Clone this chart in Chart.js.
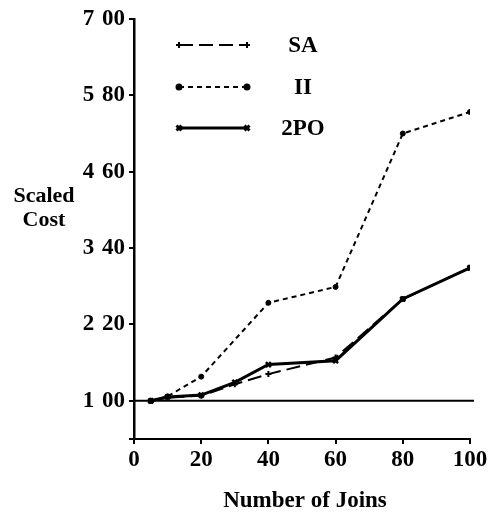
<!DOCTYPE html>
<html>
<head>
<meta charset="utf-8">
<script src="https://cdn.jsdelivr.net/npm/chart.js@4"></script>
<style>
html, body { margin: 0; padding: 0; background: #fff; }
#wrap { width: 491px; height: 513px; }
</style>
</head>
<body>
<div id="wrap"><canvas id="chart"></canvas></div>
<script>
// valeurs (coût relatif selon le nombre de jointures)
const joins = [5, 10, 20, 30, 40, 60, 80, 100];
const saCost = [1.00, 1.05, 1.08, 1.26, 1.42, 1.68, 2.60, 3.09];
const iiJoins = [5, 10, 20, 40, 60, 80, 100];
const iiCost = [1.00, 1.07, 1.38, 2.54, 2.79, 5.20, 5.54];
const tpoCost = [1.00, 1.06, 1.09, 1.29, 1.57, 1.63, 2.60, 3.09];
const yTicks = [0.40, 1.00, 2.20, 3.40, 4.60, 5.80, 7.00];
const xTicks = [0, 20, 40, 60, 80, 100];
const baseline = 1.00;

const FONT = '"Liberation Serif", "Times New Roman", serif';

function toPoints(xs, ys) {
    return xs.map((x, i) => ({ x: x, y: ys[i] }));
}

// ligne horizontale à y = 1
const baselinePlugin = {
    id: 'baseline',
    beforeDatasetsDraw(chart) {
        const { ctx, chartArea } = chart;
        const y = chart.scales.y.getPixelForValue(baseline);
        ctx.save();
        ctx.strokeStyle = '#000';
        ctx.lineWidth = 2;
        ctx.beginPath();
        ctx.moveTo(chartArea.left, y);
        ctx.lineTo(chartArea.right + 4, y);
        ctx.stroke();
        ctx.restore();
    }
};

// légende dessinée à la main, dans la zone du graphique
const legendPlugin = {
    id: 'cornerLegend',
    afterDraw(chart) {
        const { ctx } = chart;
        const rows = [45, 87, 128];
        ctx.save();
        chart.data.datasets.forEach((ds, i) => {
            const y = rows[i];
            ctx.strokeStyle = '#000';
            ctx.fillStyle = '#000';
            ctx.lineWidth = ds.borderWidth;
            ctx.setLineDash(ds.borderDash || []);
            ctx.beginPath();
            ctx.moveTo(179, y);
            ctx.lineTo(247, y);
            ctx.stroke();
            ctx.setLineDash([]);
            const opts = { pointStyle: ds.pointStyle, radius: ds.pointRadius, borderWidth: ds.pointBorderWidth, rotation: 0 };
            Chart.helpers.drawPoint(ctx, opts, 179, y);
            Chart.helpers.drawPoint(ctx, opts, 247, y);
            ctx.font = 'bold 23px ' + FONT;
            ctx.textAlign = 'center';
            ctx.textBaseline = 'middle';
            ctx.fillText(ds.label, 303, y + 1);
        });
        ctx.restore();
    }
};

// titres des axes (horizontaux)
const titlesPlugin = {
    id: 'axisTitles',
    afterDraw(chart) {
        const { ctx } = chart;
        ctx.save();
        ctx.fillStyle = '#000';
        ctx.textAlign = 'center';
        ctx.textBaseline = 'middle';
        ctx.font = 'bold 22px ' + FONT;
        ctx.fillText('Scaled', 44, 196);
        ctx.fillText('Cost', 44, 220);
        ctx.font = 'bold 23px ' + FONT;
        ctx.fillText('Number of Joins', 305, 501);
        ctx.restore();
    }
};

new Chart(document.getElementById('chart'), {
    type: 'line',
    data: {
        datasets: [
            {
                label: 'SA',
                data: toPoints(joins, saCost),
                borderColor: '#000',
                backgroundColor: '#000',
                borderWidth: 2,
                borderDash: [14, 6],
                pointStyle: 'cross',
                pointRadius: 3,
                pointBorderWidth: 2
            },
            {
                label: 'II',
                data: toPoints(iiJoins, iiCost),
                borderColor: '#000',
                backgroundColor: '#000',
                borderWidth: 2,
                borderDash: [5, 4],
                pointStyle: 'circle',
                pointRadius: 2.5,
                pointBorderWidth: 1
            },
            {
                label: '2PO',
                data: toPoints(joins, tpoCost),
                borderColor: '#000',
                backgroundColor: '#000',
                borderWidth: 3,
                pointStyle: 'crossRot',
                pointRadius: 3.5,
                pointBorderWidth: 2.5
            }
        ]
    },
    options: {
        responsive: true,
        maintainAspectRatio: false,
        animation: false,
        layout: { padding: { top: 19, right: 21, bottom: 0, left: 0 } },
        plugins: {
            legend: { display: false },
            tooltip: { enabled: false }
        },
        scales: {
            x: {
                type: 'linear',
                min: 0,
                max: 100,
                afterBuildTicks(scale) {
                    scale.ticks = xTicks.map(v => ({ value: v }));
                },
                afterFit(scale) { scale.height = 74; },
                grid: { drawOnChartArea: false, color: '#000', lineWidth: 2, tickLength: 5 },
                border: { color: '#000', width: 2 },
                ticks: {
                    color: '#000',
                    padding: 2,
                    maxRotation: 0,
                    font: { family: FONT, size: 23, weight: 'bold' }
                }
            },
            y: {
                type: 'linear',
                min: 0.4,
                max: 7.0,
                afterBuildTicks(scale) {
                    scale.ticks = yTicks.map(v => ({ value: v }));
                },
                afterFit(scale) { scale.width = 134; },
                grid: { drawOnChartArea: false, color: '#000', lineWidth: 2, tickLength: 5 },
                border: { color: '#000', width: 2.5 },
                ticks: {
                    color: '#000',
                    padding: 4,
                    font: { family: FONT, size: 23, weight: 'bold' },
                    callback: v => (v === yTicks[0] ? '' : v.toFixed(2).replace('.', '\u2004'))
                }
            }
        }
    },
    plugins: [baselinePlugin, legendPlugin, titlesPlugin]
});
</script>
</body>
</html>
